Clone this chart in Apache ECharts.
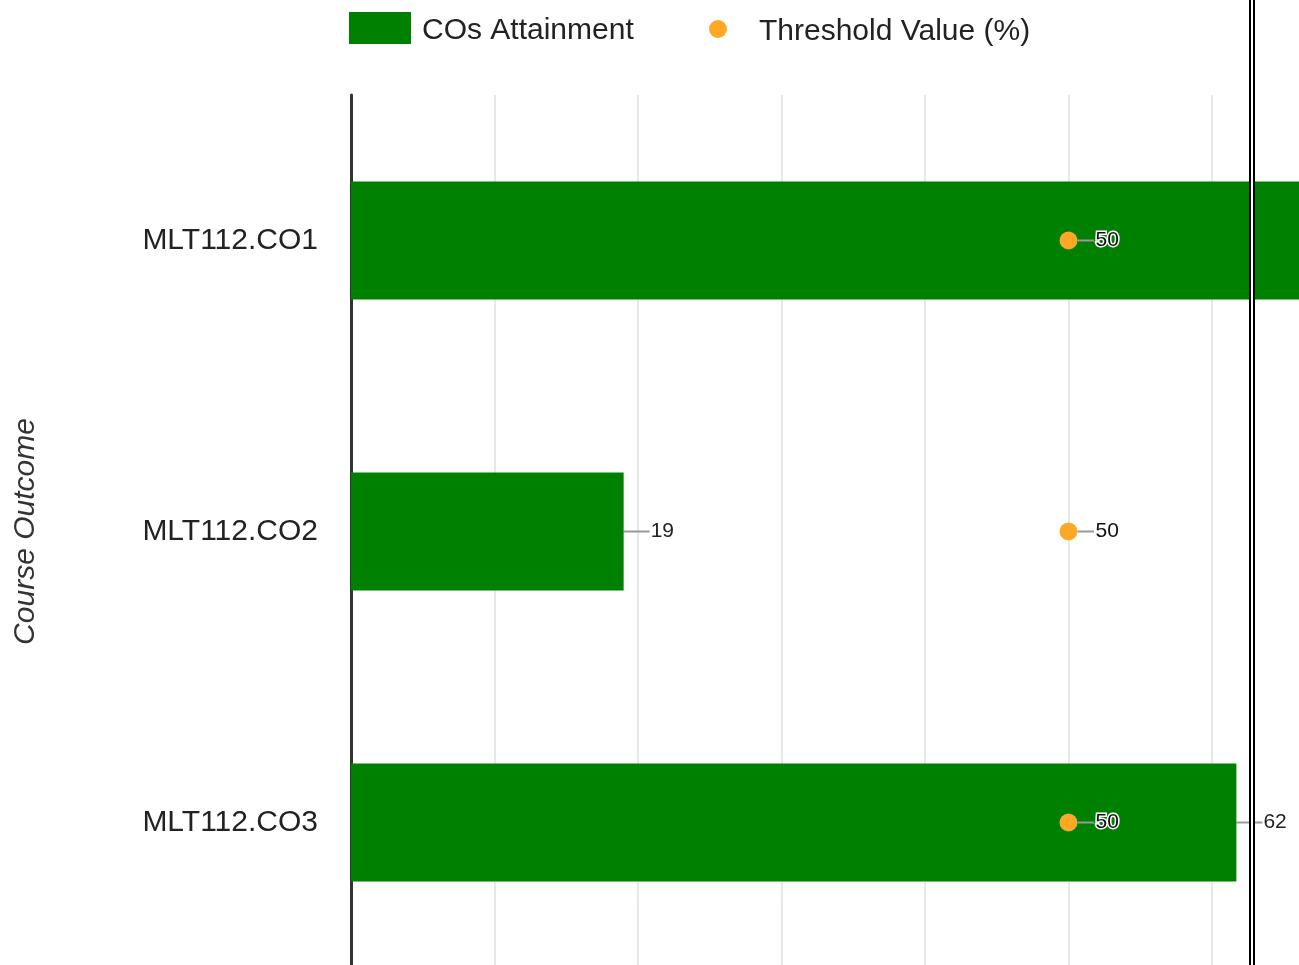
<!DOCTYPE html>
<html>
<head>
<meta charset="utf-8">
<script src="https://cdn.jsdelivr.net/npm/echarts@6/dist/echarts.min.js"></script>
<style>html,body{margin:0;padding:0;background:#fff;}#c{width:1299px;height:965px;}</style>
</head>
<body>
<div id="c"></div>
<script>
var categories = ['MLT112.CO1', 'MLT112.CO2', 'MLT112.CO3'];
var attainment = [75, 19, 61.7];
var threshold = [50, 50, 50];
var xTicks = [0, 10, 20, 30, 40, 50, 60, 70, 80, 90, 100];

var FONT = '"Liberation Sans", Arial, sans-serif';
var chart = echarts.init(document.getElementById('c'));
chart.setOption({
  animation: false,
  textStyle: { fontFamily: FONT },
  legend: [
    { data: ['COs Attainment'], left: 349, top: 12, padding: 0, itemWidth: 62, itemHeight: 32, icon: 'rect',
      formatter: '{t|{name}}',
      textStyle: { fontSize: 30, color: '#222', fontFamily: FONT,
        rich: { t: { fontSize: 30, color: '#222', fontFamily: FONT, padding: [6, 0, 0, 6] } } } },
    { data: ['Threshold Value (%)'], left: 709, top: 17, padding: 0, itemWidth: 18, itemHeight: 18, icon: 'circle',
      formatter: '{t|{name}}',
      textStyle: { fontSize: 30, color: '#222', fontFamily: FONT,
        rich: { t: { fontSize: 30, color: '#222', fontFamily: FONT, padding: [6, 0, 0, 27] } } } }
  ],
  grid: { left: 351, top: 95, width: 1435, height: 873, outerBoundsMode: 'none', containLabel: false },
  xAxis: {
    type: 'value', min: xTicks[0], max: xTicks[xTicks.length - 1], interval: 10,
    axisLine: { show: false }, axisTick: { show: false }, axisLabel: { show: false },
    splitLine: { show: true, lineStyle: { color: '#e8e8e8', width: 2 } }
  },
  yAxis: {
    type: 'category', data: categories, inverse: true,
    name: 'Course Outcome', nameLocation: 'middle', nameGap: 310,
    nameTextStyle: { fontSize: 30, fontStyle: 'italic', color: '#333', fontFamily: FONT },
    axisLine: { show: true, lineStyle: { color: '#333', width: 3 } },
    axisTick: { show: false },
    axisLabel: { fontSize: 30, color: '#222', margin: 33, fontFamily: FONT },
    splitLine: { show: false }
  },
  series: [
    {
      name: 'COs Attainment', type: 'bar', data: attainment, barWidth: '40.5%',
      itemStyle: { color: '#008000' },
      label: { show: true, position: 'right', distance: 0, fontSize: 21, color: '#222',
        textBorderColor: '#fff', textBorderWidth: 2,
        formatter: function (p) { return Math.round(p.value); } },
      labelLayout: { dx: 27 },
      labelLine: { show: true, lineStyle: { color: '#999', width: 2 } },
      z: 2
    },
    {
      name: 'Threshold Value (%)', type: 'scatter', data: threshold, symbol: 'circle', symbolSize: 18,
      itemStyle: { color: '#FFA726', opacity: 1 },
      label: { show: true, position: 'right', distance: 0, fontSize: 21, color: '#111',
        textBorderColor: '#fff', textBorderWidth: 3 },
      labelLayout: { dx: 18 },
      labelLine: { show: true, lineStyle: { color: '#999', width: 2 } },
      z: 3
    }
  ],
  graphic: [
    { type: 'rect', z: 100, shape: { x: 1249, y: 0, width: 6, height: 965 }, style: { fill: '#fff' } },
    { type: 'rect', z: 101, shape: { x: 1249, y: 0, width: 2, height: 965 }, style: { fill: '#000' } },
    { type: 'rect', z: 101, shape: { x: 1253, y: 0, width: 2, height: 965 }, style: { fill: '#000' } }
  ]
});
</script>
</body>
</html>
